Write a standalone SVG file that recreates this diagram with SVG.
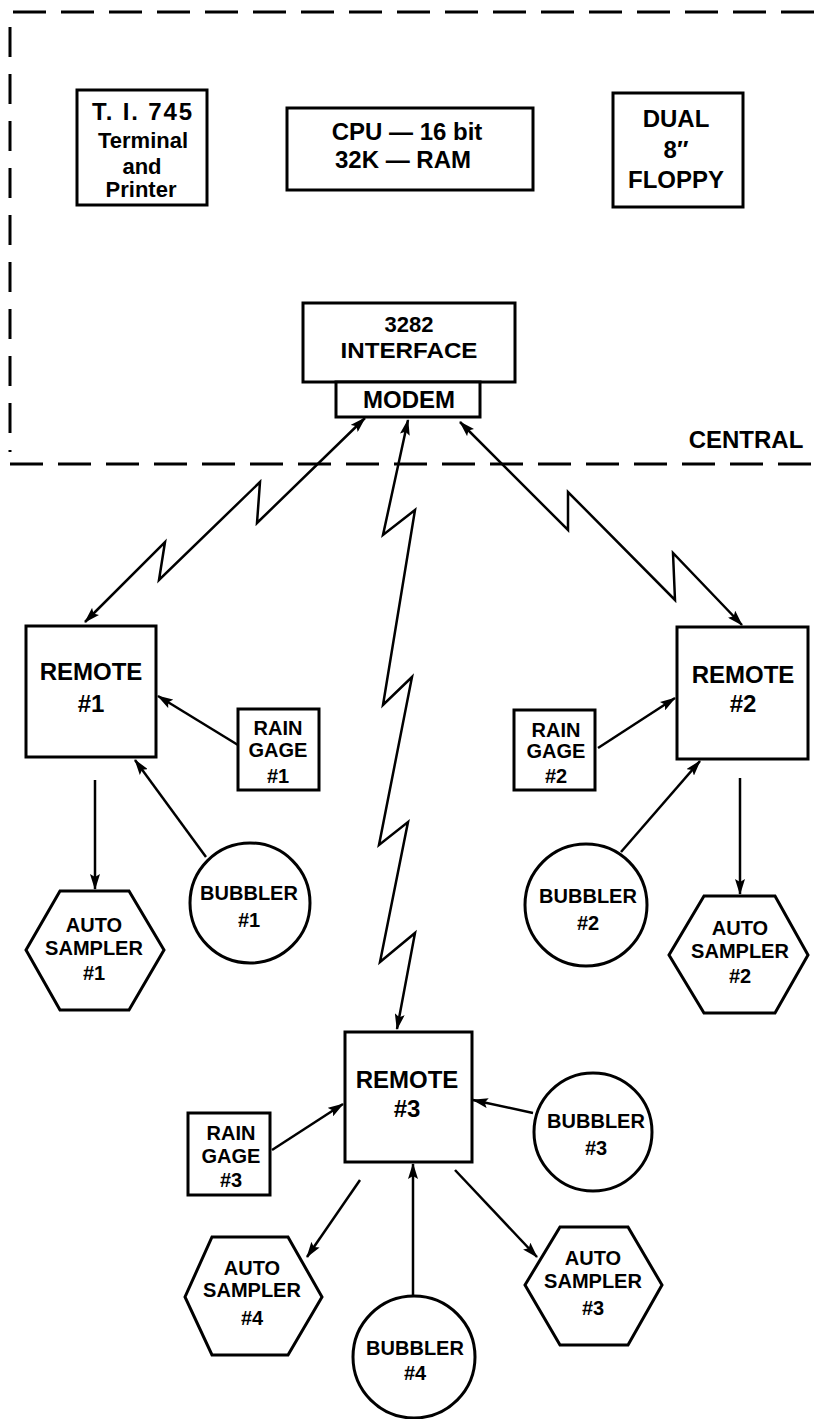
<svg xmlns="http://www.w3.org/2000/svg" width="821" height="1419" viewBox="0 0 821 1419">
<style>
.box{fill:#fff;stroke:#000;stroke-width:3}
.dash{fill:none;stroke:#000;stroke-width:3;stroke-dasharray:33 15}
.vdash{fill:none;stroke:#000;stroke-width:3;stroke-dasharray:30 17}
.conn{fill:none;stroke:#000;stroke-width:2.5;stroke-linejoin:miter}
text{font-family:"Liberation Sans",Arial,sans-serif;font-weight:bold;text-anchor:middle;fill:#000}
.t22{font-size:22px}
.t24{font-size:24px}
.t20{font-size:20px}
</style>
<defs>
<marker id="ah" markerUnits="userSpaceOnUse" markerWidth="16" markerHeight="10" refX="15" refY="5" orient="auto-start-reverse">
<path d="M0,0 L16,5 L0,10 L3,5 z" fill="#000"/>
</marker>
</defs>
<rect width="821" height="1419" fill="#fff"/>
<g id="central-boundary">
<line class="dash" x1="13" y1="12" x2="821" y2="12"/>
<line class="vdash" x1="10" y1="27" x2="10" y2="452"/>
<line class="dash" x1="10" y1="464" x2="821" y2="464"/>
<text class="t24" x="746" y="448">CENTRAL</text>
</g>
<g id="terminal">
<rect class="box" x="77" y="90" width="130" height="115"/>
<text class="t24" x="142" y="120" textLength="100" lengthAdjust="spacing">T. I. 745</text>
<text class="t22" x="143" y="148">Terminal</text>
<text class="t22" x="142" y="174">and</text>
<text class="t22" x="141" y="197">Printer</text>
</g>
<g id="cpu">
<rect class="box" x="287" y="108" width="246" height="82"/>
<text class="t24" x="407" y="140">CPU — 16 bit</text>
<text class="t24" x="403" y="168">32K — RAM</text>
</g>
<g id="floppy">
<rect class="box" x="613" y="93" width="130" height="114"/>
<text class="t24" x="676" y="127">DUAL</text>
<text class="t24" x="676" y="158">8″</text>
<text class="t24" x="676" y="188">FLOPPY</text>
</g>
<g id="interface">
<rect class="box" x="303" y="303" width="212" height="79"/>
<text class="t22" x="409" y="332">3282</text>
<text class="t22" x="409" y="358" textLength="137" lengthAdjust="spacingAndGlyphs">INTERFACE</text>
</g>
<g id="modem">
<rect class="box" x="336" y="382" width="144" height="35"/>
<text class="t24" x="409" y="408">MODEM</text>
</g>
<g id="remote1">
<rect class="box" x="26" y="626" width="130" height="131"/>
<text class="t24" x="91" y="680">REMOTE</text>
<text class="t24" x="91" y="712">#1</text>
</g>
<g id="raingage1">
<rect class="box" x="238" y="709" width="81" height="81"/>
<text class="t20" x="278" y="735">RAIN</text>
<text class="t20" x="278" y="757">GAGE</text>
<text class="t20" x="278" y="783">#1</text>
</g>
<g id="bubbler1">
<circle class="box" cx="250" cy="903" r="60"/>
<text class="t20" x="249" y="900">BUBBLER</text>
<text class="t20" x="249" y="927">#1</text>
</g>
<g id="autosampler1">
<polygon class="box" points="60,891 129,891 164,950 129,1010 60,1010 26,950"/>
<text class="t20" x="94" y="932">AUTO</text>
<text class="t20" x="94" y="955">SAMPLER</text>
<text class="t20" x="94" y="980">#1</text>
</g>
<g id="remote2">
<rect class="box" x="677" y="627" width="131" height="132"/>
<text class="t24" x="743" y="683">REMOTE</text>
<text class="t24" x="743" y="712">#2</text>
</g>
<g id="raingage2">
<rect class="box" x="514" y="710" width="81" height="80"/>
<text class="t20" x="556" y="737">RAIN</text>
<text class="t20" x="556" y="758">GAGE</text>
<text class="t20" x="556" y="783">#2</text>
</g>
<g id="bubbler2">
<circle class="box" cx="586" cy="905" r="61"/>
<text class="t20" x="588" y="903">BUBBLER</text>
<text class="t20" x="588" y="930">#2</text>
</g>
<g id="autosampler2">
<polygon class="box" points="704,896 775,896 808,955 775,1013 704,1013 669,955"/>
<text class="t20" x="740" y="935">AUTO</text>
<text class="t20" x="740" y="958">SAMPLER</text>
<text class="t20" x="740" y="983">#2</text>
</g>
<g id="remote3">
<rect class="box" x="345" y="1032" width="127" height="130"/>
<text class="t24" x="407" y="1088">REMOTE</text>
<text class="t24" x="407" y="1117">#3</text>
</g>
<g id="raingage3">
<rect class="box" x="188" y="1113" width="82" height="82"/>
<text class="t20" x="231" y="1140">RAIN</text>
<text class="t20" x="231" y="1163">GAGE</text>
<text class="t20" x="231" y="1187">#3</text>
</g>
<g id="bubbler3">
<circle class="box" cx="593" cy="1132" r="59"/>
<text class="t20" x="596" y="1128">BUBBLER</text>
<text class="t20" x="596" y="1155">#3</text>
</g>
<g id="bubbler4">
<circle class="box" cx="414" cy="1357" r="61"/>
<text class="t20" x="415" y="1355">BUBBLER</text>
<text class="t20" x="415" y="1380">#4</text>
</g>
<g id="autosampler4">
<polygon class="box" points="212,1237 288,1237 322,1297 288,1355 212,1355 185,1297"/>
<text class="t20" x="252" y="1275">AUTO</text>
<text class="t20" x="252" y="1297">SAMPLER</text>
<text class="t20" x="252" y="1325">#4</text>
</g>
<g id="autosampler3">
<polygon class="box" points="560,1227 628,1227 662,1285 628,1345 560,1345 525,1285"/>
<text class="t20" x="593" y="1265">AUTO</text>
<text class="t20" x="593" y="1288">SAMPLER</text>
<text class="t20" x="593" y="1315">#3</text>
</g>
<g id="connectors">
<polyline class="conn" points="365,418 257,523 260,482 159,580 165,542 85,622" marker-start="url(#ah)" marker-end="url(#ah)"/>
<polyline class="conn" points="460,422 568,530 568,492 675,600 673,553 742,625" marker-start="url(#ah)" marker-end="url(#ah)"/>
<polyline class="conn" points="408,420 383,535 415,510 383,705 412,677 379,845 408,822 380,962 415,933 397,1029" marker-start="url(#ah)" marker-end="url(#ah)"/>
<line class="conn" x1="238" y1="745" x2="158" y2="696" marker-end="url(#ah)"/>
<line class="conn" x1="206" y1="857" x2="135" y2="760" marker-end="url(#ah)"/>
<line class="conn" x1="95" y1="780" x2="95" y2="889" marker-end="url(#ah)"/>
<line class="conn" x1="598" y1="748" x2="675" y2="698" marker-end="url(#ah)"/>
<line class="conn" x1="621" y1="852" x2="700" y2="761" marker-end="url(#ah)"/>
<line class="conn" x1="740" y1="778" x2="740" y2="894" marker-end="url(#ah)"/>
<line class="conn" x1="272" y1="1150" x2="343" y2="1104" marker-end="url(#ah)"/>
<line class="conn" x1="533" y1="1113" x2="473" y2="1100" marker-end="url(#ah)"/>
<line class="conn" x1="413" y1="1296" x2="413" y2="1164" marker-end="url(#ah)"/>
<line class="conn" x1="360" y1="1180" x2="307" y2="1257" marker-end="url(#ah)"/>
<line class="conn" x1="455" y1="1170" x2="537" y2="1257" marker-end="url(#ah)"/>
</g>
</svg>
